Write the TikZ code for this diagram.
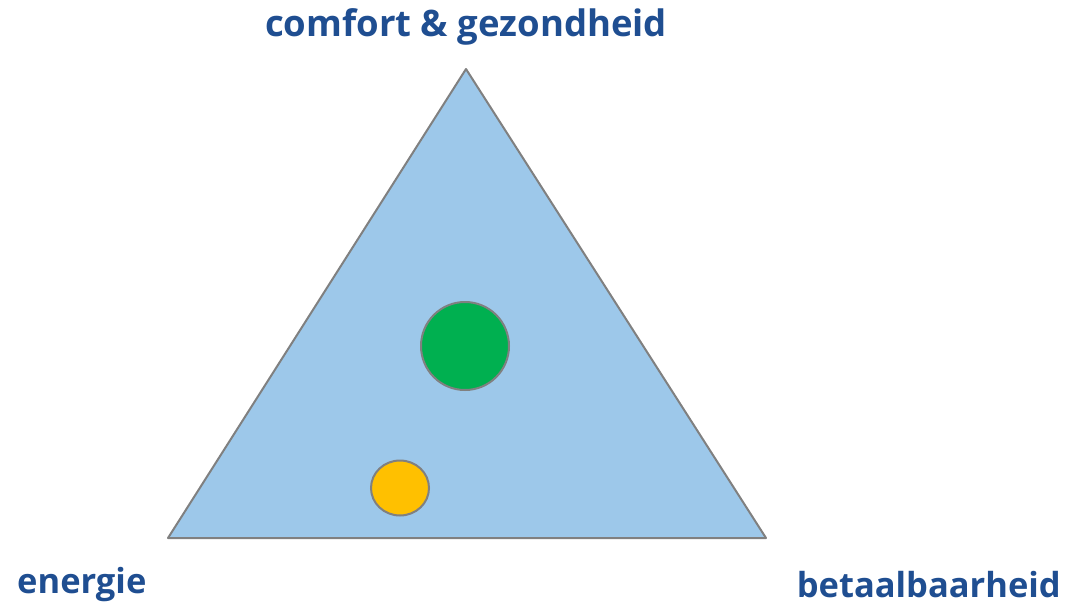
\documentclass[tikz,border=0pt]{standalone}
\usepackage{fontspec}
\usetikzlibrary{shapes.geometric}
\setmainfont{Open Sans}
\definecolor{titleblue}{RGB}{31,78,145}
\definecolor{trifill}{RGB}{157,200,234}
\definecolor{edgegray}{RGB}{128,128,128}
\definecolor{greenfill}{RGB}{0,176,80}
\definecolor{yellowfill}{RGB}{255,192,0}
\begin{document}
\begin{tikzpicture}[x=1pt,y=-1pt,
  lbl/.style={font=\fontsize{34.5}{40}\selectfont\bfseries, text=titleblue, inner sep=0pt},
  edge/.style={draw=edgegray, line width=2pt}]
\useasboundingbox (0,0) rectangle (1070,605);
\coordinate (top) at (466,69);
\coordinate (bl) at (168,538);
\coordinate (br) at (766,538);
\filldraw[edge, fill=trifill, line join=round] (top) -- (bl) -- (br) -- cycle;
\node[edge, fill=greenfill, circle, minimum size=88pt, inner sep=0pt] (green) at (465,346) {};
\node[edge, fill=yellowfill, ellipse, minimum width=58pt, minimum height=55pt, inner sep=0pt] (yellow) at (400,488) {};
\node[lbl, font=\fontsize{36.5}{42}\selectfont\bfseries, anchor=base] (t1) at (466,36) {comfort \& gezondheid};
\node[lbl, anchor=base west] (t2) at (17,593) {energie};
\node[lbl, anchor=base east] (t3) at (1061,597) {betaalbaarheid};
\end{tikzpicture}
\end{document}
